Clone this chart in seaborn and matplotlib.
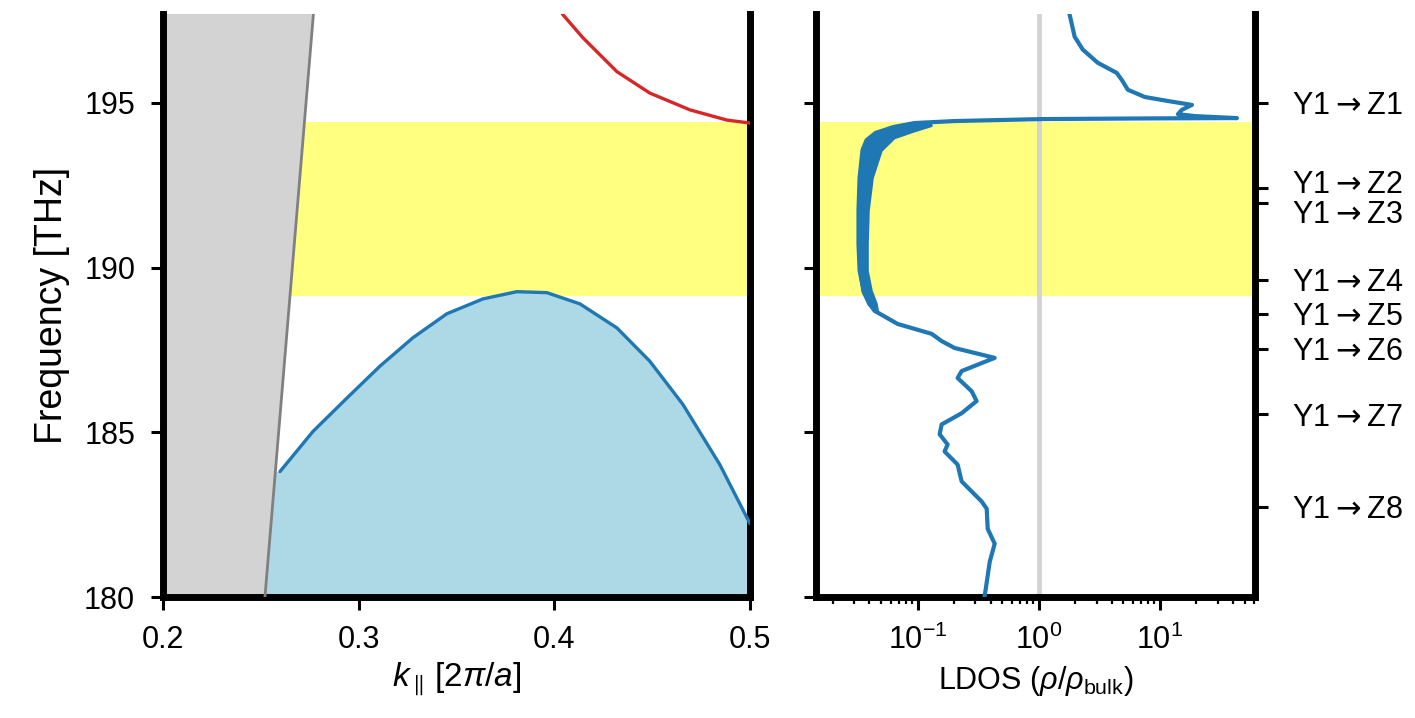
import numpy as np
import matplotlib
matplotlib.use("Agg")
import matplotlib.pyplot as plt
import matplotlib.transforms as mtransforms
import seaborn as sns

# %% Data

# Light line (edge of the light cone), f in THz vs k in 2pi/a
light_k = [0.2507, 0.2780]
light_f = [179.0, 198.5]

# Band gap limits
gap_lo = 189.15
gap_hi = 194.42

# Lower guided band (blue)
band_k = [0.2598, 0.2767, 0.2940, 0.3109, 0.3277, 0.3451, 0.3635, 0.3809,
          0.3962, 0.4131, 0.4320, 0.4488, 0.4657, 0.4846, 0.5000]
band_f = [183.81, 185.03, 186.04, 187.01, 187.87, 188.60, 189.05, 189.27,
          189.24, 188.90, 188.17, 187.16, 185.85, 184.02, 182.23]

# Upper band (red)
upper_k = [0.4010, 0.4044, 0.4146, 0.4320, 0.4488, 0.4693, 0.4882, 0.5000]
upper_f = [198.0, 197.68, 196.98, 195.95, 195.30, 194.79, 194.48, 194.39]

# LDOS along the frequency axis
ldos_f = [197.9, 197.68, 197.01, 196.62, 196.22, 195.91, 195.70, 195.40, 195.18,
          195.06, 194.94, 194.79, 194.66, 194.60, 194.54, 194.53, 194.51,
          194.45, 194.39, 194.27, 194.09, 193.87, 193.57, 192.74, 191.74,
          190.73, 189.91, 189.60, 189.21, 188.69, 188.29, 187.99, 187.77,
          187.56, 187.26, 186.86, 186.65, 186.25, 185.95, 185.58, 185.24,
          184.94, 184.63, 184.42, 184.02, 183.51, 182.90, 182.68, 182.07,
          181.62, 181.07, 180.24, 179.85]
ldos_v = [1.78, 1.80, 1.98, 2.31, 3.07, 4.41, 4.85, 5.44, 7.52,
          11.6, 18.4, 15.2, 14.1, 19.5, 43.3, 7.96, 1.06,
          0.202, 0.0944, 0.0633, 0.045, 0.0379, 0.0351, 0.0332, 0.0325,
          0.0325, 0.0332, 0.0345, 0.0365, 0.0441, 0.0684, 0.1305, 0.158,
          0.202, 0.433, 0.231, 0.214, 0.279, 0.307, 0.231, 0.158,
          0.152, 0.177, 0.167, 0.214, 0.231, 0.338, 0.372, 0.379,
          0.433, 0.394, 0.365, 0.351]

# Envelope of the fast oscillation inside the gap
osc_f = [194.33, 194.18, 193.96, 193.57, 192.74, 191.74, 190.73, 189.91,
         189.30, 188.90, 188.69]
osc_lo = [0.0766, 0.0534, 0.0409, 0.0358, 0.0332, 0.0325, 0.0325, 0.0332,
          0.0351, 0.0394, 0.0441]
osc_hi = [0.128, 0.0944, 0.0633, 0.0494, 0.0417, 0.0386, 0.0379, 0.0379,
          0.0409, 0.045, 0.046]

# Mode frequencies marked on the right
mode_f = [195.0, 192.41, 191.95, 189.63, 188.60, 187.53, 185.55, 182.74]
mode_labels = [r"Y1$\rightarrow$Z1", r"Y1$\rightarrow$Z2",
               r"Y1$\rightarrow$Z3", r"Y1$\rightarrow$Z4",
               r"Y1$\rightarrow$Z5", r"Y1$\rightarrow$Z6",
               r"Y1$\rightarrow$Z7", r"Y1$\rightarrow$Z8"]

# %% Style

sns.set_theme(style="white")
plt.rcParams['font.family'] = ['Liberation Sans', 'DejaVu Sans']
plt.rcParams['mathtext.fontset'] = 'custom'
plt.rcParams['mathtext.rm'] = 'Liberation Sans'
plt.rcParams['mathtext.it'] = 'Liberation Sans:italic'
plt.rcParams['mathtext.bf'] = 'Liberation Sans:bold'
plt.rcParams['text.color'] = 'black'
plt.rcParams['axes.labelcolor'] = 'black'

fs = 22
spine_lw = 5
blue = '#1f77b4'
red = '#d62728'
yellow = '#ffff80'
ylim = (180, 197.7)

fig = plt.figure(figsize=(14.15, 7.18), dpi=100)
ax1 = fig.add_axes([0.1152, 0.1685, 0.4148, 0.812])
ax2 = fig.add_axes([0.5767, 0.1685, 0.3102, 0.812])

# %% Left panel: band diagram

ax1.axhspan(gap_lo, gap_hi, color=yellow, lw=0, zorder=0)
ax1.fill_between([light_k[0]] + band_k, [band_f[0]] + band_f, 180,
                 color='lightblue', lw=0, zorder=1)
ax1.fill_betweenx(light_f, 0.2, light_k, color='lightgray', lw=0, zorder=2)
sns.lineplot(x=light_k, y=light_f, ax=ax1, color='gray', lw=2,
             sort=False, estimator=None, zorder=3)
sns.lineplot(x=band_k, y=band_f, ax=ax1, color=blue, lw=2.4,
             sort=False, estimator=None, zorder=4)
sns.lineplot(x=upper_k, y=upper_f, ax=ax1, color=red, lw=2.4,
             sort=False, estimator=None, zorder=4)

ax1.set_xlim(0.2, 0.5)
ax1.set_ylim(*ylim)
ax1.set_xticks([0.2, 0.3, 0.4, 0.5])
ax1.set_yticks([180, 185, 190, 195])
ax1.set_xlabel(r'$k_{\parallel}\,[2\pi/a]$', fontsize=24, labelpad=4)
ax1.set_ylabel('Frequency [THz]', fontsize=27, labelpad=10)
ax1.tick_params(axis='both', direction='out', length=9, width=2.2,
                labelsize=fs, pad=11, left=True, bottom=True, colors='black')
ax1.spines['top'].set_visible(False)
for s in ['left', 'right', 'bottom']:
    ax1.spines[s].set_linewidth(spine_lw)
    ax1.spines[s].set_color('black')

# %% Right panel: LDOS

ax2.axhspan(gap_lo, gap_hi, color=yellow, lw=0, zorder=0)
ax2.axvline(1.0, color='lightgray', lw=3.5, zorder=1)
ax2.fill_betweenx(osc_f, osc_lo, osc_hi, color=blue, lw=2.5, zorder=2)
sns.lineplot(x=ldos_v, y=ldos_f, ax=ax2, color=blue, lw=3,
             sort=False, estimator=None, zorder=3)

ax2.set_xscale('log')
ax2.set_xlim(0.0145, 61)
ax2.set_ylim(*ylim)
ax2.set_yticks([180, 185, 190, 195])
ax2.set_yticklabels([])
ax2.set_ylabel('')
ax2.set_xlabel(r'LDOS ($\rho/\rho_{\mathrm{bulk}}$)', fontsize=fs, labelpad=6)
ax2.tick_params(axis='both', which='major', direction='out', length=9,
                width=2.2, labelsize=fs, pad=11, left=True, bottom=True,
                colors='black')
ax2.tick_params(axis='x', which='minor', direction='out', length=5,
                width=1.6, bottom=True, colors='black')
ax2.spines['top'].set_visible(False)
for s in ['left', 'right', 'bottom']:
    ax2.spines[s].set_linewidth(spine_lw)
    ax2.spines[s].set_color('black')

ax3 = ax2.twinx()
ax3.set_ylim(*ylim)
ax3.set_yticks(mode_f)
ax3.set_yticklabels(mode_labels)
ax3.tick_params(axis='y', direction='out', length=9, width=2.2,
                labelsize=fs, pad=18, right=True, colors='black')
for s in ax3.spines.values():
    s.set_visible(False)

# arrows in DejaVu, and nudge the close Z2 / Z3 labels apart
labels = ax3.get_yticklabels()
for lab in labels:
    lab.set_math_fontfamily('dejavusans')
for lab, dy in [(labels[1], 0.07), (labels[2], -0.08)]:
    lab.set_transform(lab.get_transform() +
                      mtransforms.ScaledTranslation(0, dy, fig.dpi_scale_trans))

fig.savefig('out.png', dpi=100)
